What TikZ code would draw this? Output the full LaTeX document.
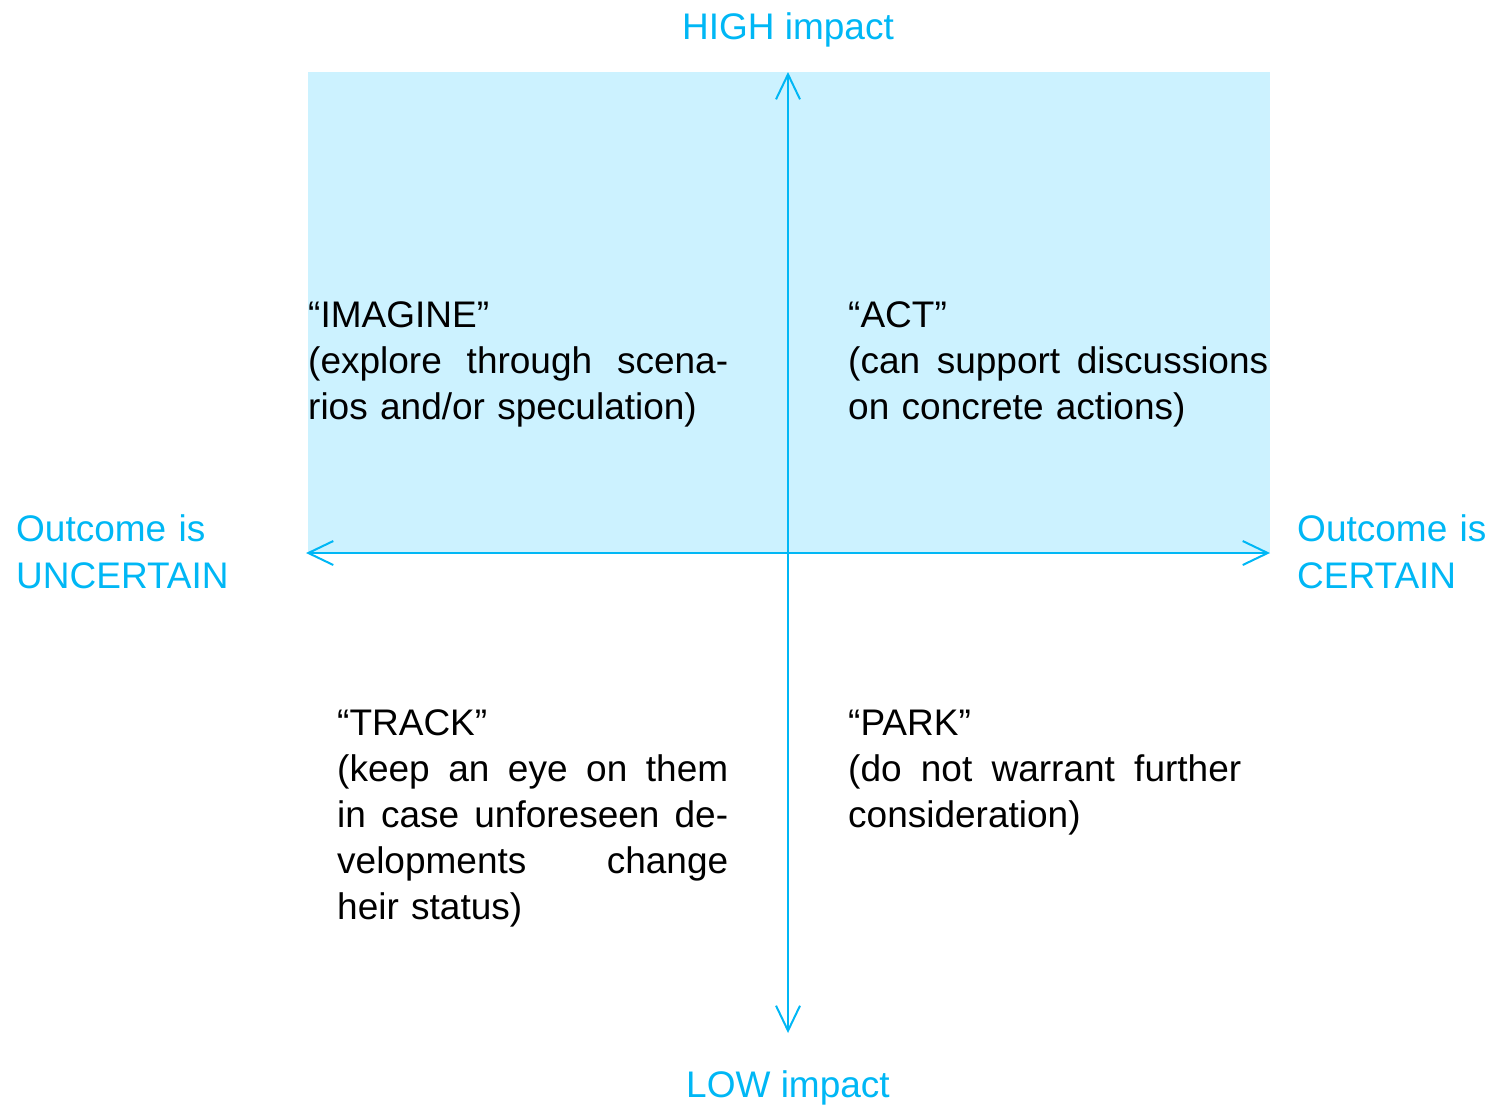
\documentclass[tikz,border=0pt]{standalone}
\usepackage{fontspec}
\setmainfont{Liberation Sans}
\usetikzlibrary{arrows.meta}
\definecolor{axisblue}{RGB}{0,183,245}
\definecolor{panelfill}{RGB}{204,242,255}
% a justified line: words spread over the given width
\newcommand{\spreadline}[2]{\leavevmode\hbox to #1{#2}}
\begin{document}
\begin{tikzpicture}[x=1pt,y=-1pt,
  axis/.style={draw=axisblue,line width=2pt,
    {Straight Barb[length=25pt,width=24pt,line width=2pt]}-{Straight Barb[length=25pt,width=24pt,line width=2pt]}},
  axislabel/.style={text=axisblue,inner sep=0pt,font=\fontsize{37}{47}\selectfont,align=left},
  quadtext/.style={inner sep=0pt,anchor=base west,align=left,font=\fontsize{37}{46}\selectfont}]
\useasboundingbox (0,0) rectangle (1495,1104);

% shaded upper half of the matrix
\fill[panelfill] (308,72) rectangle (1270,553);

% axes
\coordinate (top) at (788,72);
\coordinate (bottom) at (788,1033);
\coordinate (left) at (306,553);
\coordinate (right) at (1270,553);
\draw[axis] (left) -- (right);
\draw[axis] (bottom) -- (top);

% axis labels
\node[axislabel,anchor=base] (high) at (788,39) {HIGH impact};
\node[axislabel,anchor=base] (low) at (788,1097) {LOW impact};
\node[axislabel,anchor=base west,text width=250pt] (uncertain) at (16,541) {Outcome is\\UNCERTAIN};
\node[axislabel,anchor=base west,text width=195pt] (certain) at (1297,541) {Outcome is\\CERTAIN};

% quadrant descriptions
\node[quadtext,text width=420pt] (imagine) at (308,327)
  {“IMAGINE”\\\spreadline{420pt}{(explore\hfill through\hfill scena-}\\rios and/or speculation)};
\node[quadtext,text width=422pt] (act) at (848,327)
  {“ACT”\\\spreadline{420pt}{(can\hfill support\hfill discussions}\\on concrete actions)};
\node[quadtext,text width=391pt] (track) at (337,735)
  {“TRACK”\\\spreadline{391pt}{(keep\hfill an\hfill eye\hfill on\hfill them}\\\spreadline{391pt}{in\hfill case\hfill unforeseen\hfill de-}\\\spreadline{391pt}{velopments\hfill change}\\heir status)};
\node[quadtext,text width=393pt] (park) at (848,735)
  {“PARK”\\\spreadline{393pt}{(do\hfill not\hfill warrant\hfill further}\\consideration)};
\end{tikzpicture}
\end{document}
